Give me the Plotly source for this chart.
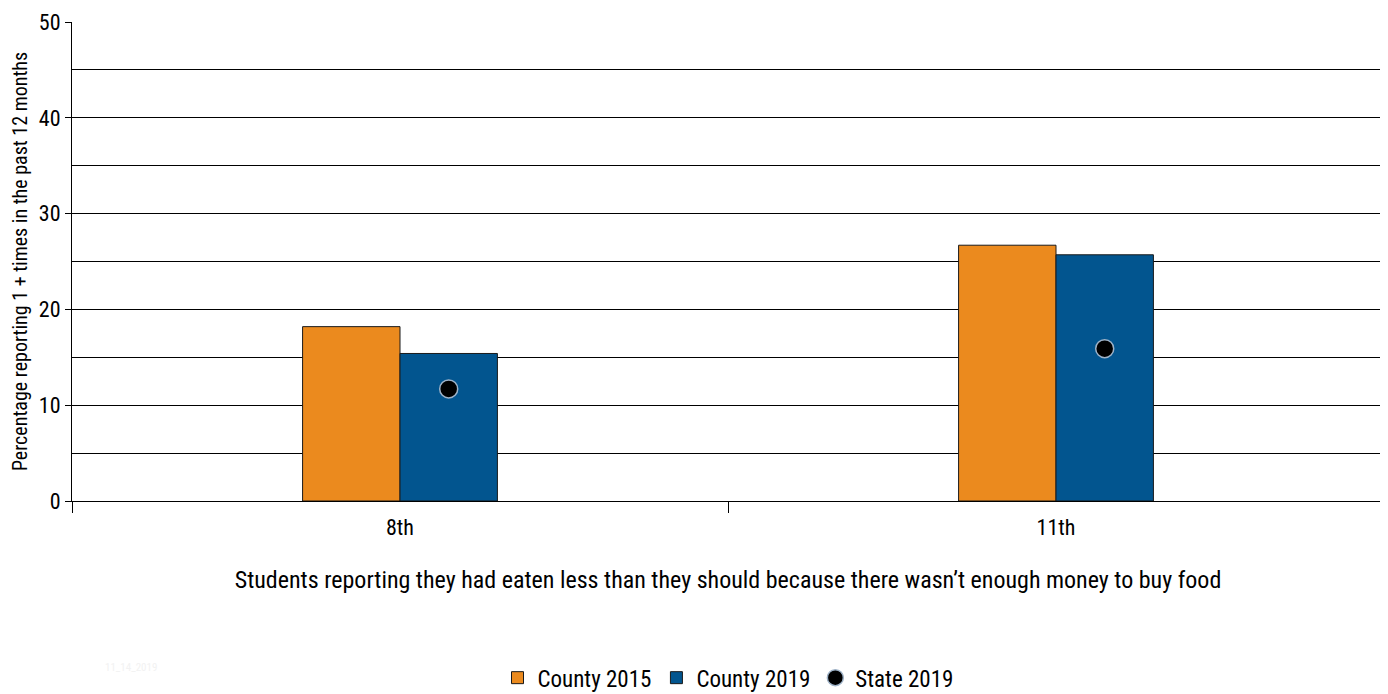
import plotly.graph_objects as go

grades = ["8th", "11th"]
county_2015 = [18.2, 26.7]
county_2019 = [15.4, 25.7]
state_2019 = [11.7, 15.9]

FONT = "Liberation Sans Narrow, Roboto Condensed, Arial Narrow, sans-serif"
ORANGE = "#EB8A1E"
BLUE = "#02558F"
BARGAP = 0.703
bar_w = (1 - BARGAP) / 2

fig = go.Figure()
fig.add_trace(go.Bar(x=grades, y=county_2015, name="County 2015",
                     marker=dict(color=ORANGE, line=dict(color="#1a1a1a", width=1))))
fig.add_trace(go.Bar(x=grades, y=county_2019, name="County 2019",
                     marker=dict(color=BLUE, line=dict(color="#1a1a1a", width=1))))
fig.add_trace(go.Scatter(x=[i + bar_w / 2 for i in range(len(grades))], y=state_2019,
                         name="State 2019", mode="markers", xaxis="x2",
                         marker=dict(color="black", size=18,
                                     line=dict(color="#9fb3c8", width=1.5))))

fig.update_layout(
    width=1388, height=694,
    margin=dict(l=64, r=12, t=14, b=201),
    paper_bgcolor="white", plot_bgcolor="white",
    barmode="group", bargap=BARGAP, bargroupgap=0,
    font=dict(family=FONT, size=22, color="black"),
    xaxis=dict(type="category", tickson="boundaries", ticks="outside", ticklen=11,
               tickcolor="black", showline=True, linecolor="black", linewidth=1,
               showgrid=False, tickfont=dict(size=22), automargin=False,
               ticklabelstandoff=7,
               title=dict(text="Students reporting they had eaten less than they should because there wasn\u2019t enough money to buy food",
                          font=dict(size=24), standoff=31)),
    xaxis2=dict(overlaying="x", range=[-0.5, len(grades) - 0.5], visible=False),
    yaxis=dict(range=[0, 50], dtick=10, ticks="outside", ticklen=6, tickcolor="black",
               showline=True, linecolor="black", linewidth=1, automargin=False,
               showgrid=True, gridcolor="black", gridwidth=1, zeroline=False,
               minor=dict(dtick=5, showgrid=True, gridcolor="black", gridwidth=1, ticks=""),
               tickfont=dict(size=22),
               title=dict(text="Percentage reporting 1 + times in the past 12 months",
                          font=dict(size=20), standoff=8)),
    legend=dict(orientation="h", x=0.5, xanchor="center", xref="paper",
                yref="container", y=0.035, yanchor="middle",
                font=dict(size=23), itemwidth=30, traceorder="normal"),
    showlegend=True,
)
fig.add_annotation(text="11_14_2019", xref="paper", yref="paper", x=0.024, y=-0.33,
                   xanchor="left", yanchor="top", showarrow=False,
                   font=dict(size=11, color="#f2f2f2"))

fig.write_html("out.html")
